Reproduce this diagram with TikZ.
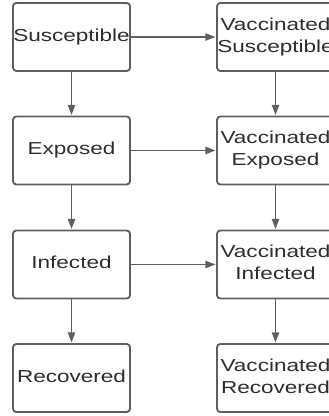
\documentclass[tikz,border=0pt]{standalone}
\usepackage{fontspec}
\setmainfont{Liberation Sans}
\usetikzlibrary{arrows.meta}
\definecolor{boxgray}{RGB}{95,95,95}
\definecolor{textgray}{RGB}{45,45,45}
\newcommand{\stagetext}[1]{\scalebox{1.3}[1]{\begin{tabular}{@{}c@{}}#1\end{tabular}}}
\tikzset{
  stage/.style={draw=boxgray, line width=1.4pt, rounded corners=2.5pt,
    minimum width=87.75pt, minimum height=51pt, inner sep=0pt,
    text=textgray, font=\fontsize{13}{16.5}\selectfont},
  flow/.style={draw=boxgray, line width=1pt,
    -{Triangle[length=7.5pt,width=5.5pt]}, shorten >=0.5pt}
}
\begin{document}
\begin{tikzpicture}[x=0.75pt,y=0.75pt,yscale=-1,xscale=1]
\useasboundingbox (0,0) rectangle (328,416);

% Stages without vaccine
\node [stage] (S) at (71.5,37) {\stagetext{Susceptible}};
\node [stage] (E) at (71.5,150.5) {\stagetext{Exposed}};
\node [stage] (I) at (71.5,264.5) {\stagetext{Infected}};
\node [stage] (R) at (71.5,378) {\stagetext{Recovered}};

% Vaccinated stages
\node [stage] (VS) at (275.5,37) {\stagetext{Vaccinated\\Susceptible}};
\node [stage] (VE) at (275.5,150.5) {\stagetext{Vaccinated\\Exposed}};
\node [stage] (VI) at (275.5,264.5) {\stagetext{Vaccinated\\Infected}};
\node [stage] (VR) at (275.5,378) {\stagetext{Vaccinated\\Recovered}};

% Progression
\draw [flow] (S) -- (E);
\draw [flow] (E) -- (I);
\draw [flow] (I) -- (R);
\draw [flow] (VS) -- (VE);
\draw [flow] (VE) -- (VI);
\draw [flow] (VI) -- (VR);

% Vaccination
\draw [flow] (S) -- (VS);
\draw [flow] (E) -- (VE);
\draw [flow] (I) -- (VI);

\end{tikzpicture}
\end{document}
